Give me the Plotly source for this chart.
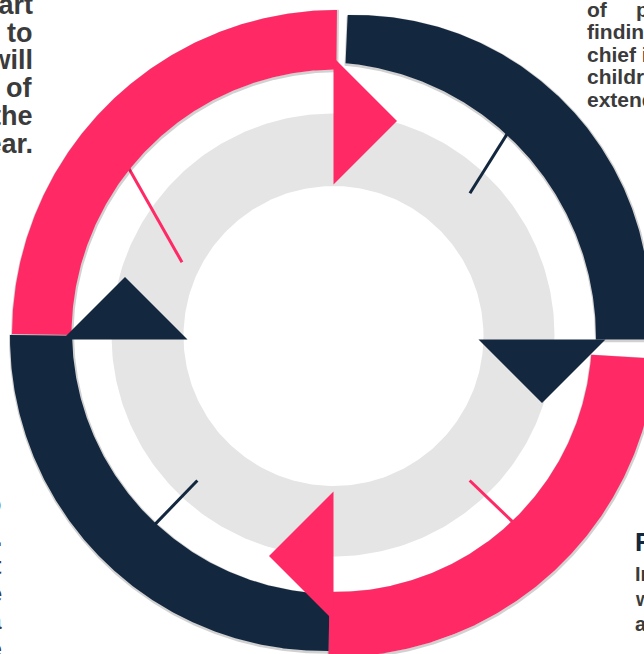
import numpy as np
import plotly.graph_objects as go

# ---------------- data ----------------
steps = ["Step One", "Step Two", "Step Three", "Step Four"]   # clockwise, starting top-right
shares = [25, 25, 25, 25]
colors = ["#13273F", "#FF2965", "#13273F", "#FF2965"]

tl_lines = ["Lorem ipsum dolor sit amet, this start", "shows four steps that lead to",
            "a result everyone will", "be really proud of", "at the end of the", "current year."]
tr_lines = ["of\u00a0\u00a0\u00a0\u00a0\u00a0planning and", "finding the right", "chief ideas for",
            "children and", "extended teams."]
br_title = "Final Step"
br_lines = ["In this step we", "will review all", "achievements."]
bl_title = "Step Two"
bl_lines = ["We develop the concept.", "Then we test", "it and improve the", "idea with a", "plan for the future"]

# ---------------- geometry / style ----------------
W, H = 644, 654
PIV = np.array([333.5, 339.5])
START = 90.0
adj_start = [-2.5, -3.4, -0.9, -1.0]
adj_end = [0.0, -0.9, -0.8, -0.6]
inner_c = [(320, 338), (335, 335), (335, 331), (337, 335)]
inner_r = [276, 257, 263, 265.5]
outer_c = [(355, 310), (335, 335), (324, 337), (337, 335)]
outer_r = [295, 322, 314, 325]
arrow_r = [(145, 272), (152, 281), (146, 271), (155, 282)]
ticks = [(50.4, 290, 47, 200), (-45.5, 255, -46, 196), (226, 257, 226, 196), (140, 268, 153, 170)]
GREY = "#E5E5E5"
TEXT = "#3B3B3B"
NAVY = "#13273F"
FONT = "Liberation Sans, Arial, sans-serif"


def ray_hit(a_deg, c, r):
    a = np.radians(np.atleast_1d(a_deg))
    d = np.stack([np.cos(a), -np.sin(a)], axis=-1)
    pc = PIV - np.array(c, dtype=float)
    b = d @ pc
    cc = pc @ pc - r * r
    t = -b + np.sqrt(b * b - cc)
    return PIV + d * t[:, None]


def polar_pt(a_deg, r):
    a = np.radians(a_deg)
    return PIV + r * np.array([np.cos(a), -np.sin(a)])


def circle(c, r, n=360):
    t = np.linspace(0, 2 * np.pi, n)
    return c[0] + r * np.cos(t), c[1] + r * np.sin(t)


fig = go.Figure()

# background rings
for c, r, col in [((333, 335), 221.5, GREY), ((333.5, 336), 150, "white")]:
    x, y = circle(c, r)
    fig.add_trace(go.Scatter(x=x, y=y, fill="toself", fillcolor=col, mode="lines",
                             line=dict(width=0, color=col), hoverinfo="skip"))

total = float(sum(shares))
bounds = START - 360 * np.concatenate([[0], np.cumsum(shares)]) / total

# tick lines
for i in range(len(steps)):
    a0, r0, a1, r1 = ticks[i]
    p0, p1 = polar_pt(a0, r0), polar_pt(a1, r1)
    fig.add_trace(go.Scatter(x=[p0[0], p1[0]], y=[p0[1], p1[1]], mode="lines",
                             line=dict(width=3, color=colors[i]), hoverinfo="skip"))

# ring segments
rings = []
for i in range(len(steps)):
    a0 = bounds[i] + adj_start[i]
    a1 = bounds[i + 1] + adj_end[i]
    ang = np.linspace(a0, a1, 240)
    outer = ray_hit(ang, outer_c[i], outer_r[i])
    inner = ray_hit(ang[::-1], inner_c[i], inner_r[i])
    pts = np.vstack([outer, inner, outer[:1]])
    rings.append(pts)
    fig.add_trace(go.Scatter(x=pts[:, 0] + 0.5, y=pts[:, 1] + 1.2, mode="lines",
                             line=dict(width=3, color="rgba(0,0,0,0.18)"), hoverinfo="skip"))
for i, pts in enumerate(rings):
    fig.add_trace(go.Scatter(x=pts[:, 0], y=pts[:, 1], fill="toself", fillcolor=colors[i],
                             mode="lines", line=dict(width=0, color=colors[i]), hoverinfo="skip"))

# arrow heads at the clockwise end of every segment
for i in range(len(steps)):
    a = np.radians(bounds[i + 1])
    r0, r1 = arrow_r[i]
    rm, h = (r0 + r1) / 2, (r1 - r0) / 2
    p0 = polar_pt(bounds[i + 1], r0)
    p1 = polar_pt(bounds[i + 1], r1)
    apex = polar_pt(bounds[i + 1], rm) + h * np.array([np.sin(a), np.cos(a)])
    fig.add_trace(go.Scatter(x=[p0[0], p1[0], apex[0], p0[0]], y=[p0[1], p1[1], apex[1], p0[1]],
                             fill="toself", fillcolor=colors[i], mode="lines",
                             line=dict(width=0, color=colors[i]), hoverinfo="skip"))

# texts
ann = []


def add_lines(lines, x, y0, dy, size, anchor, color=TEXT):
    for k, s in enumerate(lines):
        ann.append(dict(x=x, y=y0 + k * dy, xref="x", yref="y", text="<b>%s</b>" % s,
                        showarrow=False, xanchor=anchor, yanchor="middle",
                        font=dict(family=FONT, size=size, color=color)))


add_lines(tl_lines, 35, 5, 27.7, 27, "right")
add_lines(tr_lines, 585, 9, 22.5, 21, "left")
add_lines([br_title], 633, 542, 0, 26, "left", NAVY)
add_lines(br_lines, 633, 574, 25, 20, "left")
add_lines([bl_title], 3, 503, 0, 28, "right", NAVY)
add_lines(bl_lines, 4, 538, 27.8, 23, "right")

fig.update_layout(
    width=W, height=H, margin=dict(l=0, r=0, t=0, b=0),
    paper_bgcolor="white", plot_bgcolor="white", showlegend=False,
    xaxis=dict(range=[0, W], visible=False, fixedrange=True),
    yaxis=dict(range=[H, 0], visible=False, fixedrange=True),
    annotations=ann,
)

fig.write_html("out.html", config={"displayModeBar": False},
               post_script="document.body.style.margin='0';document.body.style.overflow='hidden';")
